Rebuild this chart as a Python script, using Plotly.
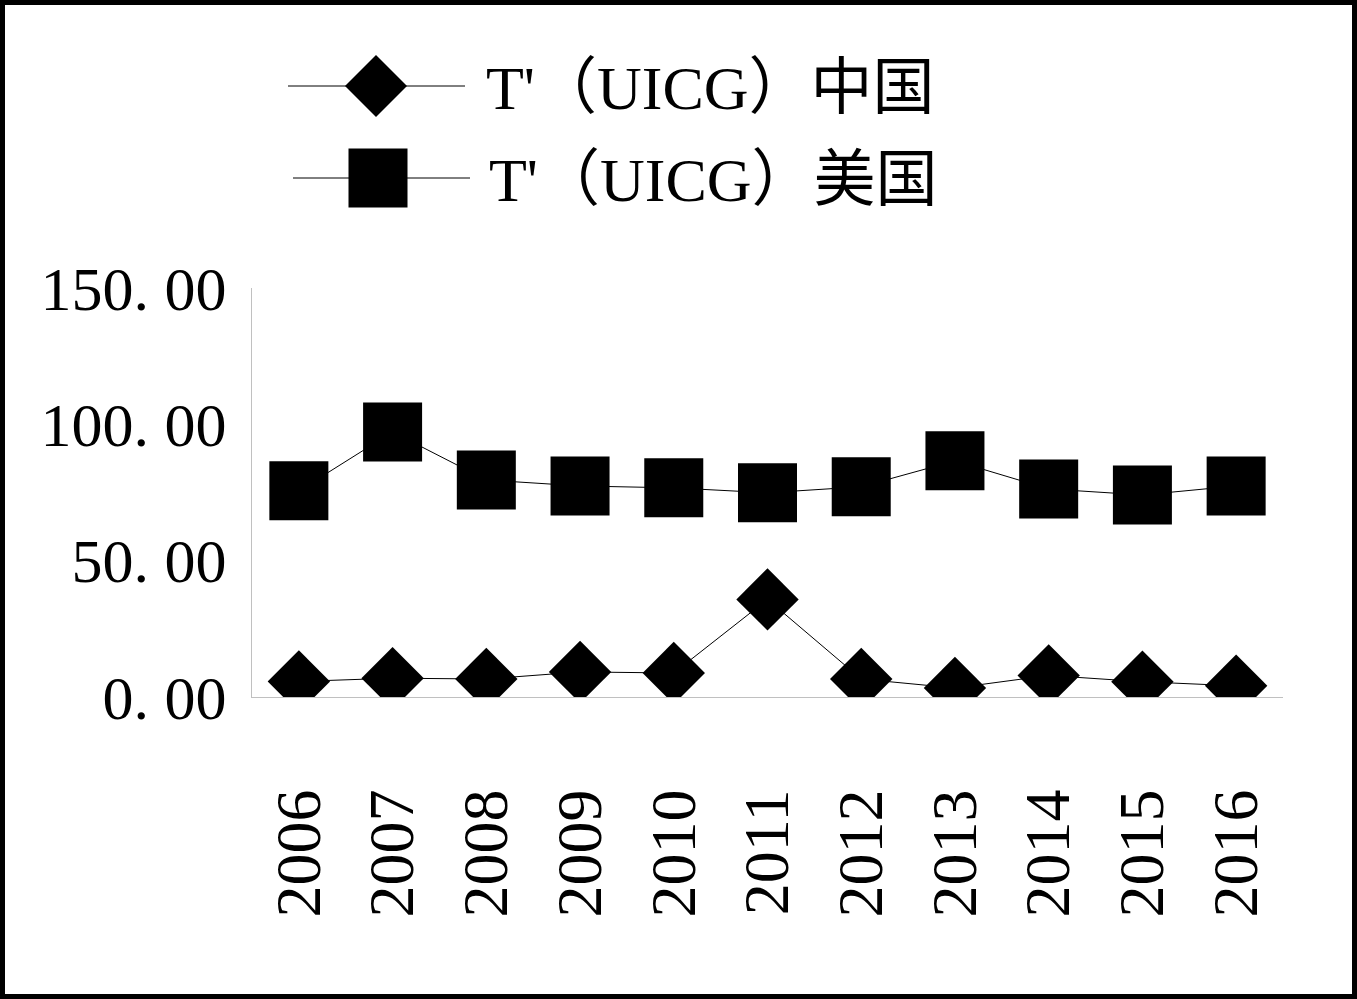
import plotly.graph_objects as go

years = ["2006", "2007", "2008", "2009", "2010", "2011", "2012", "2013", "2014", "2015", "2016"]
china = [5.7, 6.9, 6.6, 9.2, 8.8, 35.8, 6.6, 3.3, 7.9, 5.6, 4.1]
usa = [75.6, 97.2, 79.6, 77.4, 76.7, 74.9, 77.1, 86.6, 76.3, 74.1, 77.4]
name_cn = "T'（UICG）中国"
name_us = "T'（UICG）美国"
y_tickvals = [0, 50, 100, 150]
y_ticktext = ["0. 00", "50. 00", "100. 00", "150. 00"]

W, H = 1357, 999
L, R, T, B = 252, 1283, 288, 697
PW, PH = R - L, B - T


def px(x):
    return (x - L) / PW


def py(y):
    return (B - y) / PH


serif = "Liberation Serif, Times New Roman, Noto Sans CJK SC, serif"

fig = go.Figure()
fig.add_trace(go.Scatter(
    x=years, y=china, mode="lines+markers", name=name_cn,
    line=dict(color="black", width=1),
    marker=dict(symbol="diamond", size=48, color="black"),
    showlegend=False,
))
fig.add_trace(go.Scatter(
    x=years, y=usa, mode="lines+markers", name=name_us,
    line=dict(color="black", width=1),
    marker=dict(symbol="square", size=59, color="black"),
    showlegend=False,
))

shapes = []
# outer frame
shapes.append(dict(type="rect", xref="paper", yref="paper",
                   x0=px(2.5), x1=px(1354.5), y0=py(996.5), y1=py(2.5),
                   line=dict(color="black", width=5), fillcolor="rgba(0,0,0,0)", layer="above"))
# custom legend
shapes.append(dict(type="line", xref="paper", yref="paper",
                   x0=px(288), x1=px(465), y0=py(86), y1=py(86),
                   line=dict(color="black", width=1)))
cx, cy, r = 376, 86, 31
shapes.append(dict(type="path", xref="paper", yref="paper",
                   path=f"M {px(cx - r)} {py(cy)} L {px(cx)} {py(cy - r)} L {px(cx + r)} {py(cy)} L {px(cx)} {py(cy + r)} Z",
                   fillcolor="black", line=dict(color="black", width=0)))
shapes.append(dict(type="line", xref="paper", yref="paper",
                   x0=px(293), x1=px(470), y0=py(178), y1=py(178),
                   line=dict(color="black", width=1)))
sx, sy, s = 378, 178, 29.5
shapes.append(dict(type="rect", xref="paper", yref="paper",
                   x0=px(sx - s), x1=px(sx + s), y0=py(sy + s), y1=py(sy - s),
                   fillcolor="black", line=dict(color="black", width=0)))

annotations = [
    dict(xref="paper", yref="paper", x=px(484), y=py(88), xanchor="left", yanchor="middle",
         text=name_cn, showarrow=False, font=dict(family=serif, size=62, color="black")),
    dict(xref="paper", yref="paper", x=px(487), y=py(180), xanchor="left", yanchor="middle",
         text=name_us, showarrow=False, font=dict(family=serif, size=62, color="black")),
]

fig.update_layout(
    width=W, height=H,
    margin=dict(l=L, r=W - R, t=T, b=H - B, pad=0),
    paper_bgcolor="white", plot_bgcolor="white",
    shapes=shapes, annotations=annotations,
    xaxis=dict(
        type="category", range=[-0.5, 10.5], showgrid=False, zeroline=False,
        showline=True, linecolor="#c0c0c0", linewidth=1,
        ticks="", tickangle=-90, ticklabelstandoff=66,
        tickfont=dict(family=serif, size=64, color="black"),
    ),
    yaxis=dict(
        range=[0, 150], showgrid=False, zeroline=False,
        showline=True, linecolor="#c0c0c0", linewidth=1,
        ticks="", tickvals=y_tickvals, ticktext=y_ticktext,
        ticklabelstandoff=12,
        tickfont=dict(family=serif, size=62, color="black"),
    ),
)

fig.write_html("out.html", config={"displayModeBar": False},
               post_script="document.body.style.margin='0px';")
